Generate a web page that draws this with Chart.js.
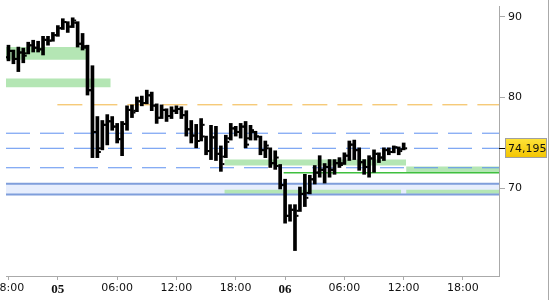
<!DOCTYPE html>
<html>
<head>
<meta charset="utf-8">
<script src="https://cdn.jsdelivr.net/npm/chart.js@4.4.1/dist/chart.umd.min.js"></script>
<style>
  body { margin: 0; background: #fff; }
  #wrap { position: relative; width: 550px; height: 300px; }
  #edge { position: absolute; left: 548px; top: 0; width: 1px; height: 300px; background: #aaa; }
</style>
</head>
<body>
<div id="wrap">
  <canvas id="myChart" width="550" height="300"></canvas>
  <div id="edge"></div>
</div>
<script>
// half hour bars, first one at 04 18:00
var highs = [86.32,85.71,86.08,85.95,86.70,86.95,86.82,87.45,87.45,87.95,88.84,89.74,89.35,89.86,89.35,87.82,86.32,83.76,77.74,77.29,
             77.96,77.74,76.96,77.18,78.97,79.08,80.00,80.11,80.81,80.58,79.20,79.08,78.63,78.86,78.97,78.86,78.41,77.29,76.85,77.51,
             75.54,76.74,76.63,74.46,75.64,76.96,76.63,76.96,77.18,76.74,76.08,75.54,75.00,74.25,73.93,72.46,70.91,68.31,68.31,70.10,
             71.42,71.32,72.35,73.40,72.56,72.98,72.98,73.19,73.71,75.00,75.10,74.25,72.98,73.40,74.03,73.71,74.25,74.25,74.46,74.35,74.78];
var lows = [84.36,84.00,83.04,84.12,85.22,85.46,85.46,85.09,86.32,86.82,87.45,88.33,87.95,88.58,86.08,85.71,80.23,73.19,73.19,74.03,
            74.57,76.19,74.78,73.40,76.19,77.62,78.30,78.97,79.20,78.41,76.96,77.51,77.18,77.51,78.07,77.51,75.54,74.78,74.25,75.00,
            73.50,72.98,72.88,71.73,73.19,75.10,75.54,75.32,74.25,75.10,75.10,73.50,73.19,72.14,71.94,69.90,66.48,66.67,63.86,67.63,
            68.12,69.40,70.41,71.12,70.51,71.12,71.42,72.14,72.46,72.88,72.98,71.84,71.42,71.12,71.63,72.66,72.88,73.50,73.71,73.50,74.03];
var opens = [84.8,85.6,84.6,85.4,85.3,86.3,86.0,85.8,87.0,86.9,87.6,88.5,89.3,88.7,89.2,86.5,86.0,80.8,76.0,74.2,
             76.8,77.2,76.6,75.2,76.9,78.5,78.4,79.5,79.3,80.2,79.0,77.6,78.5,77.8,78.4,78.6,77.9,76.3,75.6,75.0,
             75.5,73.9,75.4,73.6,73.3,75.3,76.4,76.0,76.6,75.3,76.0,75.5,74.0,74.2,72.6,72.3,70.3,67.2,67.8,67.7,
             69.4,69.5,70.9,71.6,71.9,72.2,71.9,72.6,72.6,73.4,74.6,74.0,72.7,72.2,73.1,73.6,73.2,74.0,73.8,74.3,74.1];
var closes = [85.6,84.6,85.4,85.0,86.3,86.0,85.8,87.0,86.9,87.6,88.5,89.3,88.7,89.5,86.5,86.2,80.8,76.0,73.8,76.8,
              77.2,76.6,75.2,76.9,78.5,78.2,79.5,79.3,80.2,79.0,77.6,78.5,77.8,78.4,78.6,77.9,76.3,75.6,75.0,76.8,
              73.9,75.4,73.6,72.5,74.9,76.4,76.0,76.6,74.6,76.2,75.5,74.0,74.5,72.6,73.2,70.3,67.2,67.8,67.2,69.4,
              69.0,70.9,71.6,71.9,72.2,71.9,72.6,72.4,73.4,74.6,74.0,72.7,72.2,73.1,73.6,73.2,74.0,73.8,74.3,73.9,74.195];
var firstSlot = 0.5;

// time axis (in bar slots) and price axis
var tickSlots = [0.5, 10.5, 22.5, 34.5, 46.5, 56.5, 68.5, 80.5, 92.5];
var tickLabels = ["18:00", "05", "06:00", "12:00", "18:00", "06", "06:00", "12:00", "18:00"];
var dayLabels = ["05", "06"];
var priceTicks = [70, 80, 90];
var xMin = 0, xMax = 99.8;
var yMin = 61.52, yMax = 91.43;

// levels drawn over the chart
var dashedLevels = [75.86, 74.20, 72.11];
var orangeLevel = 79.09, orangeFrom = 10.4;
var bandTop = 70.43, bandBottom = 69.33;
var greenLine = 71.58, greenLineFrom = 56.2;
var zoneFrom = [0, 0, 44.2, 81, 44.2, 81];
var zoneTo = [16.4, 21.2, 81, 99.8, 80, 99.8];
var zoneLow = [84.49, 81.16, 72.35, 71.63, 69.40, 69.40];
var zoneHigh = [86.08, 82.21, 72.98, 72.25, 69.83, 69.83];

function levelLine(from, to, value, color, width, dash, order) {
    return {
        type: 'line',
        data: [{x: from, y: value}, {x: to, y: value}],
        borderColor: color,
        borderWidth: width,
        borderDash: dash,
        pointRadius: 0,
        fill: false,
        order: order
    };
}

var datasets = [];

// bars
datasets.push({
    type: 'bar',
    data: highs.map(function (h, i) { return {x: firstSlot + i, y: [lows[i], h]}; }),
    backgroundColor: '#000',
    barThickness: 3,
    order: 0
});
// open ticks left, close ticks right
datasets.push({
    type: 'scatter',
    data: opens.map(function (o, i) { return {x: firstSlot + i - 0.5, y: o}; }),
    pointStyle: 'line', pointRadius: 1, pointBorderWidth: 2, pointBorderColor: '#000',
    order: 0
});
datasets.push({
    type: 'scatter',
    data: closes.map(function (c, i) { return {x: firstSlot + i + 0.5, y: c}; }),
    pointStyle: 'line', pointRadius: 1, pointBorderWidth: 2, pointBorderColor: '#000',
    order: 0
});

// dashed levels
dashedLevels.forEach(function (v) {
    datasets.push(levelLine(xMin, xMax, v, '#5e90f0', 1, [24, 10], 2));
});
datasets.push(levelLine(orangeFrom, xMax, orangeLevel, '#f2b440', 1, [25, 10], 2));
datasets.push(levelLine(greenLineFrom, xMax, greenLine, '#3fbf3f', 1.5, [], 2));

// blue band: fill, then its two border lines
var bandFill = levelLine(xMin, xMax, bandTop, 'rgba(0,0,0,0)', 1, [], 4);
bandFill.fill = '+1';
bandFill.backgroundColor = '#e7eefd';
datasets.push(bandFill);
datasets.push(levelLine(xMin, xMax, bandBottom, 'rgba(0,0,0,0)', 1, [], 4));
datasets.push(levelLine(xMin, xMax, bandTop, '#7f9edb', 2, [], 2));
datasets.push(levelLine(xMin, xMax, bandBottom, '#7f9edb', 2, [], 2));

// green zones
for (var z = 0; z < zoneFrom.length; z++) {
    var zoneTop = levelLine(zoneFrom[z], zoneTo[z], zoneHigh[z], 'rgba(0,0,0,0)', 1, [], 3);
    zoneTop.fill = '+1';
    zoneTop.backgroundColor = '#b4e6b4';
    datasets.push(zoneTop);
    datasets.push(levelLine(zoneFrom[z], zoneTo[z], zoneLow[z], 'rgba(0,0,0,0)', 1, [], 3));
}

// last price box on the right axis
var lastLabel = {
    id: 'lastLabel',
    afterDraw: function (chart) {
        var ctx = chart.ctx;
        var ys = chart.scales.y;
        var last = closes[closes.length - 1];
        var y = Math.round(ys.getPixelForValue(last));
        var x0 = ys.left;
        ctx.save();
        ctx.strokeStyle = '#000';
        ctx.lineWidth = 1;
        ctx.beginPath();
        ctx.moveTo(x0, y + 0.5);
        ctx.lineTo(x0 + 6, y + 0.5);
        ctx.stroke();
        var g = ctx.createLinearGradient(0, y - 10, 0, y + 10);
        g.addColorStop(0, '#ffe43a');
        g.addColorStop(1, '#f3c400');
        ctx.fillStyle = g;
        ctx.fillRect(x0 + 6, y - 10, 42, 20);
        ctx.strokeStyle = '#a0a0a0';
        ctx.strokeRect(x0 + 6.5, y - 9.5, 41, 19);
        ctx.fillStyle = '#111';
        ctx.font = '11px "DejaVu Sans"';
        ctx.textBaseline = 'middle';
        ctx.fillText(last.toFixed(3).replace('.', ','), x0 + 9, y + 1);
        ctx.restore();
    }
};

var context = document.getElementById("myChart").getContext("2d");
var myChart = new Chart(context, {
    type: 'bar',
    data: { datasets: datasets },
    plugins: [lastLabel],
    options: {
        responsive: false,
        animation: false,
        events: [],
        layout: { padding: 0 },
        plugins: {
            legend: { display: false },
            tooltip: { enabled: false }
        },
        scales: {
            x: {
                type: 'linear',
                min: xMin,
                max: xMax,
                offset: false,
                grid: { drawOnChartArea: false, offset: false, tickLength: 4, color: '#aaa' },
                border: { color: '#aaa' },
                afterBuildTicks: function (s) { s.ticks = tickSlots.map(function (v) { return {value: v}; }); },
                afterFit: function (s) { s.paddingLeft = 0; s.paddingRight = 0; s.height = 24; },
                ticks: {
                    autoSkip: false,
                    maxRotation: 0,
                    padding: 2,
                    color: '#111',
                    callback: function (v, i) { return tickLabels[i]; },
                    font: function (c) {
                        if (dayLabels.indexOf(tickLabels[c.index]) >= 0) {
                            return {family: 'Liberation Serif', size: 13, weight: 'bold'};
                        }
                        return {family: 'DejaVu Sans', size: 11};
                    }
                }
            },
            y: {
                type: 'logarithmic',
                position: 'right',
                min: yMin,
                max: yMax,
                grid: { drawOnChartArea: false, tickLength: 6, color: '#aaa' },
                border: { color: '#aaa' },
                afterBuildTicks: function (s) { s.ticks = priceTicks.map(function (v) { return {value: v}; }); },
                afterFit: function (s) { s.paddingTop = 0; s.paddingBottom = 0; s.width = 51; },
                ticks: {
                    padding: 3,
                    color: '#111',
                    font: {family: 'DejaVu Sans', size: 11},
                    callback: function (v) { return String(v); }
                }
            }
        }
    }
});
</script>
</body>
</html>
